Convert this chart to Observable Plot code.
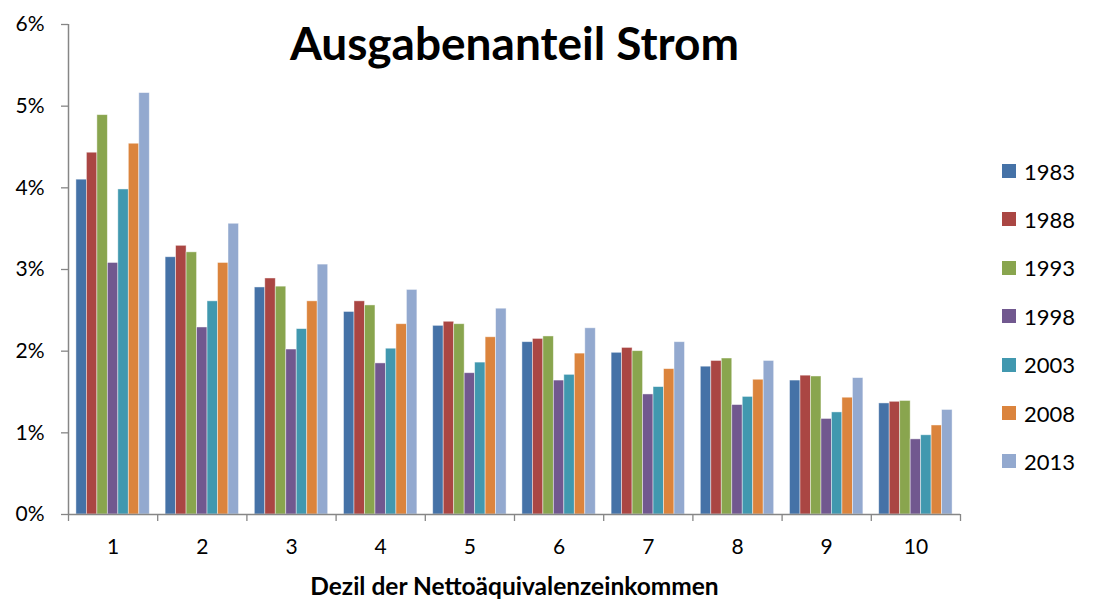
<!DOCTYPE html>
<html>
<head>
<meta charset="utf-8">
<script src="https://cdn.jsdelivr.net/npm/d3@7"></script>
<script src="https://cdn.jsdelivr.net/npm/@observablehq/plot@0.6"></script>
<style>
  html, body { margin: 0; padding: 0; background: #fff; }
  #wrap { position: relative; width: 1093px; height: 601px; font-family: Lato, "Open Sans", sans-serif; }
  #legend { position: absolute; left: 1002px; top: 0; }
  .item { position: absolute; left: 0; display: flex; align-items: center; white-space: nowrap; font-size: 22px; color: #000; }
  .sw { width: 14px; height: 14px; margin-right: 8px; }
</style>
</head>
<body>
<div id="wrap"><div id="chart"></div><div id="legend"></div></div>
<script>
const title = "Ausgabenanteil Strom";
const xTitle = "Dezil der Nettoäquivalenzeinkommen";
const deciles = [1, 2, 3, 4, 5, 6, 7, 8, 9, 10];
const years = ["1983", "1988", "1993", "1998", "2003", "2008", "2013"];
const colors = ["#4572A7", "#AA4643", "#89A54E", "#71588F", "#4198AF", "#DB843D", "#93A9CF"];
const v1983 = [4.10, 3.15, 2.78, 2.48, 2.31, 2.11, 1.98, 1.81, 1.64, 1.36];
const v1988 = [4.43, 3.29, 2.89, 2.61, 2.36, 2.15, 2.04, 1.88, 1.70, 1.38];
const v1993 = [4.89, 3.21, 2.79, 2.56, 2.33, 2.18, 2.00, 1.91, 1.69, 1.39];
const v1998 = [3.08, 2.29, 2.02, 1.85, 1.73, 1.64, 1.47, 1.34, 1.17, 0.92];
const v2003 = [3.98, 2.61, 2.27, 2.03, 1.86, 1.71, 1.56, 1.44, 1.25, 0.97];
const v2008 = [4.54, 3.08, 2.61, 2.33, 2.17, 1.97, 1.78, 1.65, 1.43, 1.09];
const v2013 = [5.16, 3.56, 3.06, 2.75, 2.52, 2.28, 2.11, 1.88, 1.67, 1.28];
const yTicks = [0, 1, 2, 3, 4, 5, 6];

const series = [v1983, v1988, v1993, v1998, v2003, v2008, v2013];
const data = [];
series.forEach((vals, i) => vals.forEach((v, j) => data.push({decile: deciles[j], year: years[i], i, value: v})));

const nY = years.length;
const barW = 0.1175;
const groupStart = -barW * nY / 2;
const xDomain = [deciles[0] - 0.5, deciles[deciles.length - 1] + 0.5];
const bounds = deciles.map(d => d - 0.5).concat([xDomain[1]]);
const axisColor = "#868686";
const font = "Lato, 'Open Sans', sans-serif";

const chart = Plot.plot({
  width: 1093,
  height: 601,
  marginLeft: 68,
  marginRight: 133,
  marginTop: 24,
  marginBottom: 87,
  style: {fontFamily: font, background: "white", color: "black"},
  x: {domain: xDomain, axis: null},
  y: {domain: [0, 6], axis: null},
  color: {domain: years, range: colors},
  marks: [
    Plot.rect(data, {
      x1: d => d.decile + groupStart + d.i * barW,
      x2: d => d.decile + groupStart + (d.i + 1) * barW,
      y1: 0,
      y2: "value",
      fill: "year",
      stroke: "white",
      strokeOpacity: 0.55,
      strokeWidth: 0.8
    }),
    Plot.axisY({ticks: yTicks, tickSize: 7, tickFormat: () => "", label: null, stroke: axisColor, strokeWidth: 1.3}),
    Plot.axisY({ticks: yTicks, tickSize: 0, tickPadding: 24, tickFormat: d => d + "%", label: null, fontSize: 21, fill: "black"}),
    Plot.axisX({ticks: bounds, tickSize: 7, tickFormat: () => "", label: null, stroke: axisColor, strokeWidth: 1.3}),
    Plot.axisX({ticks: deciles, tickSize: 0, tickPadding: 25, tickFormat: d => String(d), label: null, fontSize: 21, fill: "black"}),
    Plot.ruleX([xDomain[0]], {stroke: axisColor, strokeWidth: 1.5}),
    Plot.ruleY([0], {stroke: axisColor, strokeWidth: 1.5}),
    Plot.text([title], {frameAnchor: "top", lineAnchor: "middle", dy: 21, fontSize: 46, fontWeight: "bold", fill: "black"}),
    Plot.text([xTitle], {frameAnchor: "bottom", lineAnchor: "middle", dy: 73, fontSize: 24.5, fontWeight: "bold", fill: "black"})
  ]
});
document.getElementById("chart").appendChild(chart);

const legend = document.getElementById("legend");
const legendTop = 171, legendStep = 48.4;
years.forEach((y, i) => {
  const item = document.createElement("div");
  item.className = "item";
  item.style.top = (legendTop + i * legendStep - 13) + "px";
  item.style.height = "26px";
  const sw = document.createElement("div");
  sw.className = "sw";
  sw.style.background = colors[i];
  const t = document.createElement("span");
  t.textContent = y;
  item.appendChild(sw);
  item.appendChild(t);
  legend.appendChild(item);
});
</script>
</body>
</html>
